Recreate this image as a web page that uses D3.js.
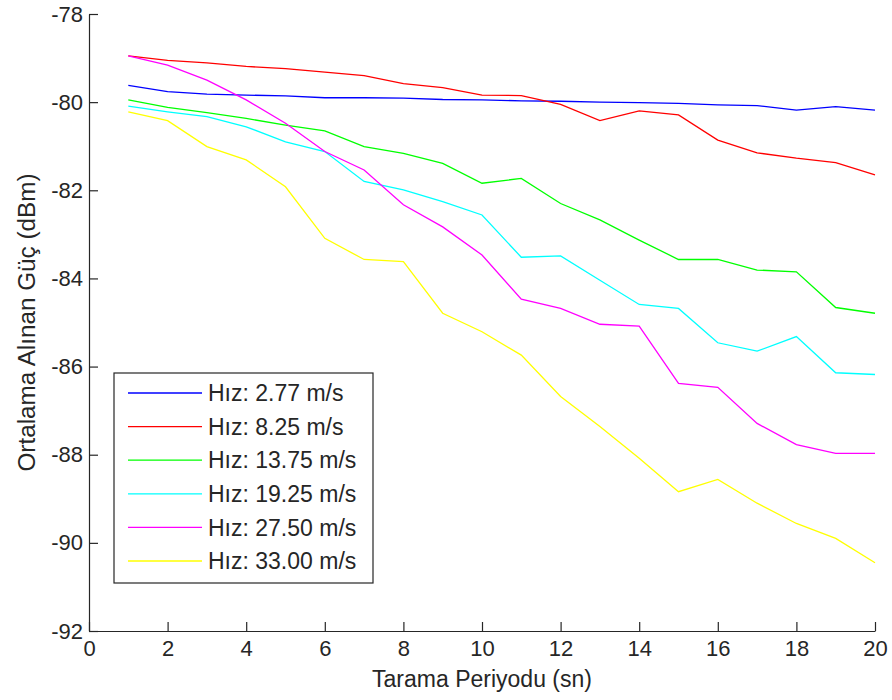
<!DOCTYPE html>
<html lang="tr">
<head>
    <meta charset="UTF-8">
    <title>Ortalama Alınan Güç</title>
    <script src="https://d3js.org/d3.v7.min.js"></script>
    <style>
        body {
            margin: 0;
            background: #fff;
        }
        .chart text {
            font-family: "Liberation Sans", Arial, sans-serif;
            fill: #262626;
        }
        .axis path,
        .axis line {
            fill: none;
            stroke: #262626;
            stroke-width: 1.2;
        }
        .axis text {
            font-size: 22px;
        }
        .series {
            fill: none;
            stroke-width: 1.3;
        }
    </style>
</head>
<body>
    <svg id="chart" class="chart" width="892" height="700"></svg>

    <script>
        // Tarama periyodu (sn)
        const periods = d3.range(1, 21);

        const labels = ["Hız: 2.77 m/s", "Hız: 8.25 m/s", "Hız: 13.75 m/s",
                        "Hız: 19.25 m/s", "Hız: 27.50 m/s", "Hız: 33.00 m/s"];
        const colors = ["#0000ff", "#ff0000", "#00ff00", "#00ffff", "#ff00ff", "#ffff00"];

        // average received power (dBm), one array per speed
        const v277 = [-79.62, -79.76, -79.82, -79.84, -79.86, -79.90, -79.90, -79.91, -79.94, -79.95,
                      -79.97, -79.98, -80.00, -80.01, -80.03, -80.06, -80.08, -80.18, -80.10, -80.18];
        const v825 = [-78.95, -79.05, -79.11, -79.19, -79.24, -79.32, -79.40, -79.58, -79.67, -79.84,
                      -79.85, -80.05, -80.42, -80.20, -80.29, -80.86, -81.15, -81.27, -81.37, -81.65];
        const v1375 = [-79.95, -80.12, -80.24, -80.37, -80.52, -80.65, -81.01, -81.16, -81.39, -81.84,
                       -81.73, -82.30, -82.67, -83.13, -83.57, -83.57, -83.81, -83.85, -84.66, -84.79];
        const v1925 = [-80.09, -80.22, -80.33, -80.56, -80.90, -81.12, -81.80, -81.99, -82.26, -82.56,
                       -83.52, -83.49, -84.04, -84.59, -84.68, -85.46, -85.65, -85.32, -86.14, -86.18];
        const v2750 = [-78.95, -79.16, -79.50, -79.95, -80.48, -81.12, -81.54, -82.33, -82.83, -83.47,
                       -84.47, -84.68, -85.04, -85.08, -86.38, -86.47, -87.29, -87.77, -87.97, -87.97];
        const v3300 = [-80.22, -80.42, -81.01, -81.31, -81.92, -83.09, -83.57, -83.62, -84.79, -85.21,
                       -85.74, -86.68, -87.36, -88.08, -88.84, -88.56, -89.10, -89.56, -89.90, -90.45];

        const xTicks = d3.range(0, 21, 2);
        const yTicks = d3.range(-92, -77, 2);

        const series = [v277, v825, v1375, v1925, v2750, v3300];

        const svg = d3.select("#chart");
        const margin = { top: 14, right: 17, bottom: 69, left: 89 };
        const width = +svg.attr("width") - margin.left - margin.right;
        const height = +svg.attr("height") - margin.top - margin.bottom;

        const chart = svg.append("g").attr("transform", `translate(${margin.left},${margin.top})`);

        const x = d3.scaleLinear().domain([0, 20]).range([0, width]);
        const y = d3.scaleLinear().domain([-92, -78]).range([height, 0]);

        // lines
        const line = d3.line()
            .x((d, i) => x(periods[i]))
            .y(d => y(d));

        chart.selectAll(".series")
            .data(series)
            .enter().append("path")
            .attr("class", "series")
            .attr("stroke", (d, i) => colors[i])
            .attr("d", line);

        // axes, ticks pointing inward like matlab
        chart.append("g")
            .attr("class", "x axis")
            .attr("transform", `translate(0,${height})`)
            .call(d3.axisBottom(x).tickValues(xTicks).tickSizeInner(-9).tickSizeOuter(0).tickPadding(9));

        chart.append("g")
            .attr("class", "y axis")
            .call(d3.axisLeft(y).tickValues(yTicks).tickFormat(d => String(d))
                .tickSizeInner(-9).tickSizeOuter(0).tickPadding(6));

        // axis titles
        svg.append("text")
            .attr("x", margin.left + width / 2)
            .attr("y", 687)
            .attr("text-anchor", "middle")
            .style("font-size", "23px")
            .text("Tarama Periyodu (sn)");

        svg.append("text")
            .attr("transform", `translate(35,${margin.top + height / 2}) rotate(-90)`)
            .attr("text-anchor", "middle")
            .attr("textLength", 298)
            .attr("lengthAdjust", "spacingAndGlyphs")
            .style("font-size", "23px")
            .text("Ortalama Alınan Güç (dBm)");

        // legend
        const legend = svg.append("g").attr("transform", "translate(114,373)");

        legend.append("rect")
            .attr("width", 259)
            .attr("height", 210)
            .attr("fill", "#fff")
            .attr("stroke", "#262626")
            .attr("stroke-width", 1.2);

        const rows = legend.selectAll(".entry")
            .data(labels)
            .enter().append("g")
            .attr("class", "entry")
            .attr("transform", (d, i) => `translate(0,${20 + i * 33.6})`);

        rows.append("line")
            .attr("x1", 14)
            .attr("x2", 88)
            .attr("stroke", (d, i) => colors[i])
            .attr("stroke-width", 1.3);

        rows.append("text")
            .attr("x", 94)
            .attr("dy", "0.36em")
            .style("font-size", "23px")
            .text(d => d);
    </script>
</body>
</html>
